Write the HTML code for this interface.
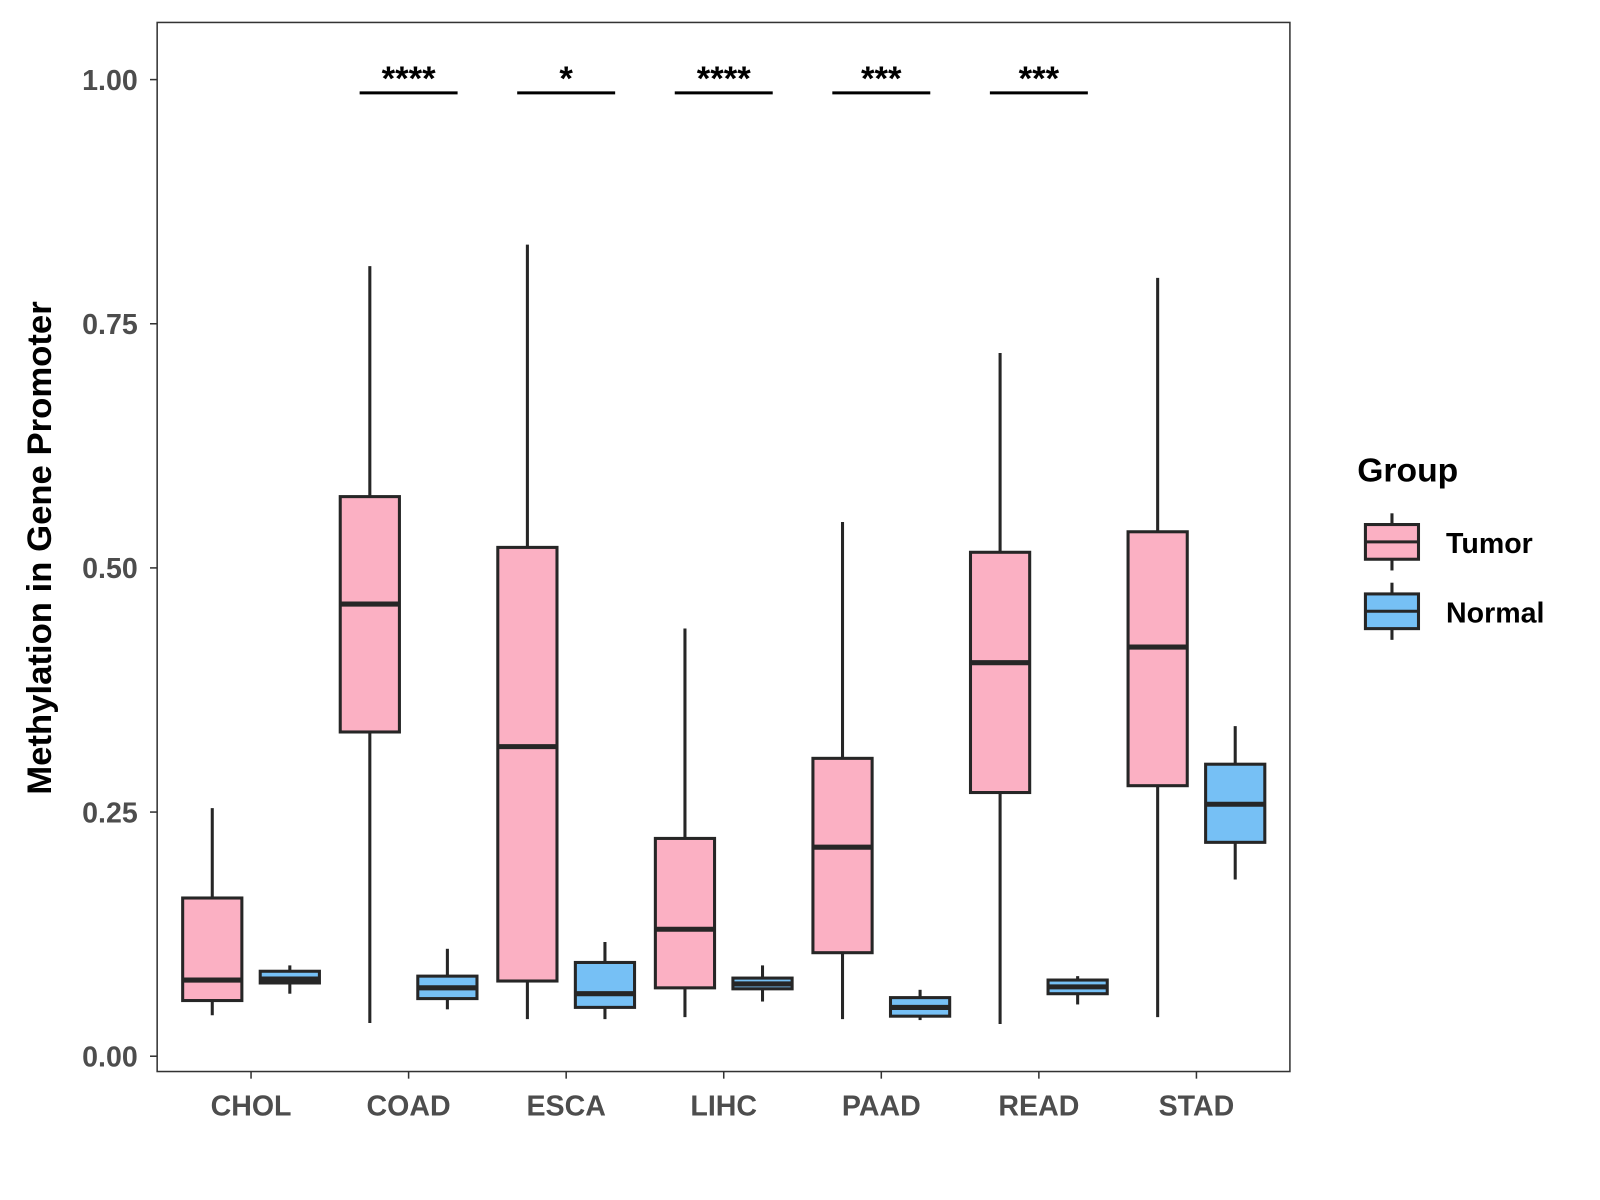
<!DOCTYPE html>
<html><head><meta charset="utf-8"><style>
html,body{margin:0;padding:0;background:#fff;}
svg{display:block;font-family:"Liberation Sans",Arial,sans-serif;}
</style></head><body>
<svg id="chart" width="1600" height="1200" viewBox="0 0 1600 1200">
<g transform="scale(1.0205)">
<rect x="154" y="22" width="1110" height="1028" fill="#fff" stroke="#333" stroke-width="1.5"/>
<g id="axes"></g><g id="marks"></g>
<text transform="translate(50,537) rotate(-90)" text-anchor="middle" font-size="34" font-weight="bold" fill="#000">Methylation in Gene Promoter</text>
<g>
<text x="1330" y="472" font-size="33" font-weight="bold" fill="#000">Group</text>
<g>
<line x1="1364" y1="503" x2="1364" y2="559" stroke="#262626" stroke-width="3"/>
<rect x="1338" y="514" width="52" height="34" fill="#FBB0C3" stroke="#262626" stroke-width="3"/>
<line x1="1338" y1="531" x2="1390" y2="531" stroke="#262626" stroke-width="3"/>
<text x="1417" y="542" font-size="28" font-weight="bold" fill="#000">Tumor</text></g>
<g>
<line x1="1364" y1="571" x2="1364" y2="627" stroke="#262626" stroke-width="3"/>
<rect x="1338" y="582" width="52" height="34" fill="#76C0F5" stroke="#262626" stroke-width="3"/>
<line x1="1338" y1="599" x2="1390" y2="599" stroke="#262626" stroke-width="3"/>
<text x="1417" y="610" font-size="28" font-weight="bold" fill="#000">Normal</text></g>
</g>
</g>
</svg>
<script>
const categories=["CHOL","COAD","ESCA","LIHC","PAAD","READ","STAD"];
const yTicks=[0,0.25,0.5,0.75,1.0];
const yTickLabels=["0.00","0.25","0.50","0.75","1.00"];
// [low, q1, median, q3, high]
const tumorStats=[[0.042,0.057,0.078,0.162,0.254],[0.034,0.332,0.463,0.573,0.809],[0.038,0.077,0.317,0.521,0.831],[0.040,0.070,0.130,0.223,0.438],[0.038,0.106,0.214,0.305,0.547],[0.033,0.270,0.403,0.516,0.720],[0.040,0.277,0.419,0.537,0.797]];
const normalStats=[[0.064,0.075,0.079,0.087,0.093],[0.048,0.059,0.070,0.082,0.110],[0.038,0.050,0.064,0.096,0.117],[0.056,0.069,0.074,0.080,0.093],[0.037,0.041,0.050,0.060,0.068],[0.053,0.064,0.071,0.078,0.082],[0.181,0.219,0.258,0.299,0.338]];
const sigLabels=["","****","*","****","***","***",""];
const NS="http://www.w3.org/2000/svg";
const y=v=>1035-v*957;
const x=i=>246+i*154.4;
function mk(tag,attrs,parent,text){const e=document.createElementNS(NS,tag);for(const k in attrs)e.setAttribute(k,attrs[k]);if(text!==undefined)e.textContent=text;parent.appendChild(e);return e;}
const axes=document.getElementById("axes"),marks=document.getElementById("marks");
yTicks.forEach((t,i)=>{
 const l=mk("line",{x1:147,x2:154,y1:y(t),y2:y(t),stroke:"#333","stroke-width":1.5},axes);
 
 
 const tx=mk("text",{x:135,y:y(t)+10,"text-anchor":"end","font-size":28,"font-weight":"bold",fill:"#4d4d4d"},axes,yTickLabels[i]);
 
 
});
categories.forEach((c,i)=>{
 const l=mk("line",{x1:x(i),x2:x(i),y1:1050,y2:1057,stroke:"#333","stroke-width":1.5},axes);
 
 
 const tx=mk("text",{x:x(i),y:1093,"text-anchor":"middle","font-size":28,"font-weight":"bold",fill:"#4d4d4d"},axes,c);
 
 
});
function box(cx,s,fill,name){
 const g=mk("g",{},marks);
 
 
 mk("line",{x1:cx,x2:cx,y1:y(s[0]),y2:y(s[4]),stroke:"#262626","stroke-width":3},g);
 mk("rect",{x:cx-29,y:y(s[3]),width:58,height:Math.max(0,y(s[1])-y(s[3])),fill:fill,stroke:"#262626","stroke-width":3},g);
 mk("line",{x1:cx-29,x2:cx+29,y1:y(s[2]),y2:y(s[2]),stroke:"#262626","stroke-width":5},g);
}
categories.forEach((c,i)=>{
 box(x(i)-38,tumorStats[i],"#FBB0C3","box-tumor-"+c.toLowerCase());
 box(x(i)+38,normalStats[i],"#76C0F5","box-normal-"+c.toLowerCase());
 if(sigLabels[i]){
  const l=mk("line",{x1:x(i)-48,x2:x(i)+48,y1:91,y2:91,stroke:"#000","stroke-width":3},marks);
  
  
  const t=mk("text",{x:x(i),y:88,"text-anchor":"middle","font-size":34,"font-weight":"bold",fill:"#000"},marks,sigLabels[i]);
  
  
 }
});
</script>
</body></html>
